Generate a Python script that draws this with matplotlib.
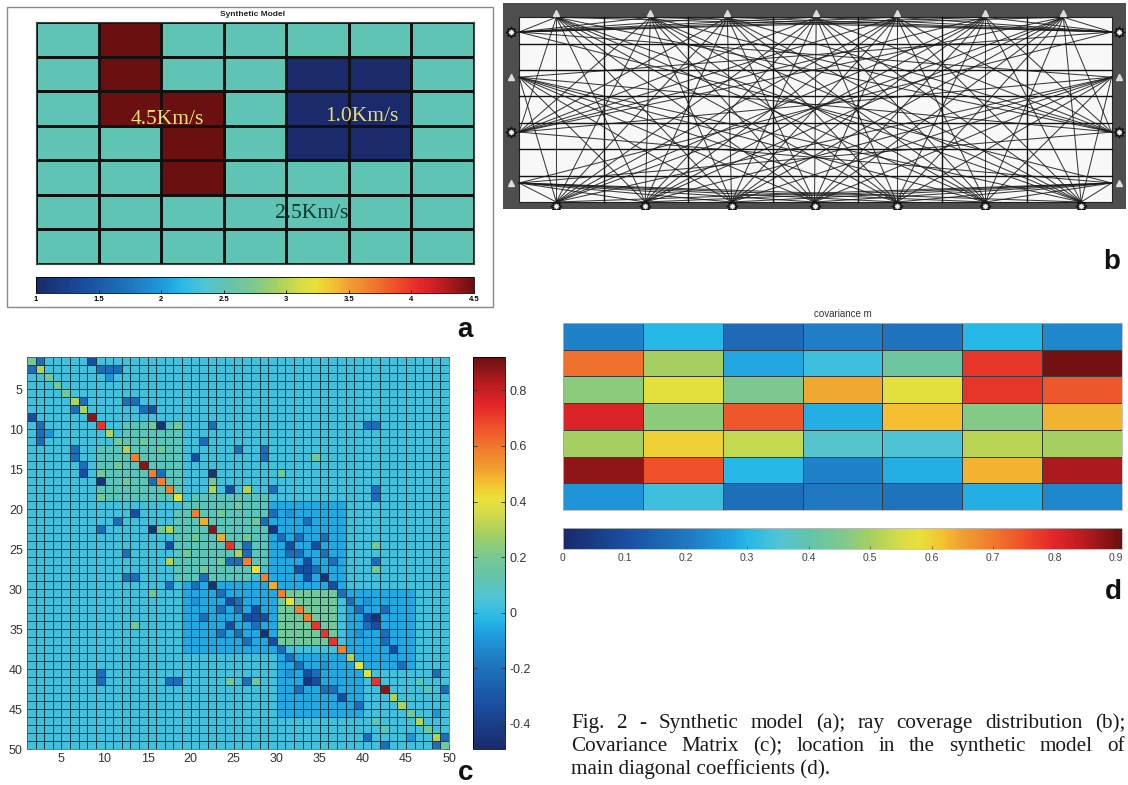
import numpy as np
import matplotlib
matplotlib.use("Agg")
import matplotlib.pyplot as plt
from matplotlib.colors import LinearSegmentedColormap
from matplotlib.patches import Rectangle

W, H = 1128, 785

# ---- panel a: synthetic velocity model (km/s), rows top to bottom
model_velocity = [
    [2.5, 4.5, 2.5, 2.5, 2.5, 2.5, 2.5],
    [2.5, 4.5, 2.5, 2.5, 1.0, 1.0, 2.5],
    [2.5, 4.5, 4.5, 2.5, 1.0, 1.0, 2.5],
    [2.5, 2.5, 4.5, 2.5, 1.0, 1.0, 2.5],
    [2.5, 2.5, 4.5, 2.5, 2.5, 2.5, 2.5],
    [2.5, 2.5, 2.5, 2.5, 2.5, 2.5, 2.5],
    [2.5, 2.5, 2.5, 2.5, 2.5, 2.5, 2.5],
]
velocity_ticks = [1, 1.5, 2, 2.5, 3, 3.5, 4, 4.5]
velocity_ticklabels = ["1", "1.5", "2", "2.5", "3", "3.5", "4", "4.5"]

# ---- panel b: source / receiver positions (model units, 7 x 7 cells)
top_receivers_x = [0.44, 1.55, 2.46, 3.51, 4.46, 5.51, 6.43]
bottom_sources_x = [0.44, 1.49, 2.51, 3.49, 4.46, 5.51, 6.64]
side_sources_y = [6.44, 2.65]
side_receivers_y = [4.73, 0.72]

# ---- panel c: covariance matrix (49 x 49 cells as drawn by pcolor)
cov_levels = {"N": -0.45, "B": -0.34, "b": -0.22, "l": -0.1, "k": -0.05,
              "c": 0.03, "m": 0.1, "g": 0.18, "y": 0.3, "Y": 0.4, "O": 0.5,
              "o": 0.58, "r": 0.72, "R": 0.88}
cov_background = "c"
cov_diag = ("gyggg" "yyRry" "gyoRo" "ooYmo" "OROry"
            "oYoOo" "Yoorr" "royYY" "rRyyg" "ygyg")
cov_blocks = [  # (row0, row1, col0, col1, level), mirrored
    (28, 36, 18, 29, "k"),
    (37, 44, 29, 38, "k"),
    (19, 27, 17, 25, "m"),
    (11, 17, 8, 16, "m"),
    (29, 35, 29, 35, "g"),
]
cov_cells = [  # (row, col, level), mirrored
    (7, 0, "B"), (1, 0, "b"), (1, 8, "b"), (1, 9, "b"), (5, 6, "b"),
    (5, 11, "b"), (5, 12, "b"), (6, 13, "b"), (8, 14, "g"), (8, 15, "N"),
    (8, 17, "g"), (8, 21, "b"), (8, 39, "b"), (8, 40, "b"), (12, 19, "B"),
    (15, 14, "b"), (16, 21, "y"), (16, 23, "B"), (16, 25, "y"),
    (16, 28, "b"), (16, 40, "b"), (21, 14, "N"), (21, 8, "b"),
    (21, 15, "g"), (21, 16, "y"), (21, 28, "B"), (20, 27, "b"),
    (23, 16, "B"), (23, 25, "b"), (25, 24, "b"), (27, 34, "B"),
    (26, 32, "B"), (28, 21, "N"), (28, 19, "b"), (27, 20, "b"),
    (28, 16, "b"), (27, 11, "b"), (27, 12, "b"), (29, 14, "g"),
    (33, 12, "g"), (32, 25, "B"), (32, 26, "B"), (31, 22, "b"),
    (33, 23, "B"), (34, 27, "N"), (33, 40, "N"), (33, 39, "b"),
    (40, 32, "N"), (41, 34, "b"), (40, 8, "b"), (40, 16, "b"),
    (40, 17, "b"), (40, 23, "g"), (40, 25, "b"), (40, 26, "g"),
    (12, 5, "b"), (13, 6, "b"), (14, 6, "B"), (10, 1, "b"), (9, 2, "l"),
    (20, 10, "b"), (24, 11, "b"), (48, 41, "B"), (48, 47, "b"),
    (41, 48, "b"), (39, 47, "b"), (47, 39, "b"),
    (29, 22, "b"), (30, 23, "B"), (30, 24, "b"), (31, 24, "b"), (31, 26, "B"),
    (32, 27, "B"), (33, 26, "b"), (34, 22, "b"), (34, 24, "b"), (35, 25, "b"),
    (35, 28, "B"), (30, 19, "l"), (32, 20, "b"), (36, 29, "b"),
    (37, 30, "b"), (38, 31, "b"), (39, 32, "B"), (40, 33, "B"), (41, 35, "b"),
    (42, 36, "B"), (38, 34, "l"), (43, 38, "b"), (39, 30, "l"), (41, 31, "b"),
    (24, 18, "g"), (22, 19, "g"), (26, 20, "g"), (25, 22, "g"), (13, 10, "g"),
    (15, 11, "g"), (44, 47, "l"), (45, 40, "m"), (46, 41, "m"),
]
cov_ticks = [5, 10, 15, 20, 25, 30, 35, 40, 45, 50]
cov_cbar_ticks = [-0.4, -0.2, 0, 0.2, 0.4, 0.6, 0.8]

# ---- panel d: main diagonal coefficients located on the model grid
diag_map = [
    [0.22, 0.30, 0.17, 0.21, 0.19, 0.30, 0.23],
    [0.71, 0.50, 0.28, 0.33, 0.42, 0.78, 0.90],
    [0.47, 0.57, 0.45, 0.64, 0.57, 0.78, 0.74],
    [0.81, 0.47, 0.74, 0.29, 0.62, 0.46, 0.63],
    [0.50, 0.60, 0.53, 0.36, 0.35, 0.52, 0.50],
    [0.88, 0.75, 0.30, 0.22, 0.29, 0.63, 0.86],
    [0.25, 0.33, 0.18, 0.20, 0.19, 0.29, 0.23],
]
diag_ticks = [0, 0.1, 0.2, 0.3, 0.4, 0.5, 0.6, 0.7, 0.8, 0.9]

caption = [
    "Fig. 2 - Synthetic model (a); ray coverage distribution (b);",
    "Covariance Matrix (c); location in the synthetic model of",
    "main diagonal coefficients (d).",
]

# washed-out "printed" jet
jet_anchors = [
    (0.0, "#1a2a6a"), (0.11, "#1b4ea0"), (0.22, "#1f78c0"), (0.297, "#1fa0e0"),
    (0.33, "#26b8e6"), (0.385, "#50c4d6"), (0.44, "#64c4aa"), (0.495, "#7cc890"),
    (0.55, "#a6d060"), (0.604, "#d6dc48"), (0.637, "#e8e23a"), (0.681, "#f4c030"),
    (0.714, "#f0a030"), (0.769, "#f07a2e"), (0.824, "#ee502a"), (0.879, "#e4262a"),
    (0.934, "#b81c20"), (1.0, "#6a1010"),
]
cmap = LinearSegmentedColormap.from_list("printjet", jet_anchors)

plt.rcParams["font.family"] = ["Liberation Sans", "DejaVu Sans"]
fig = plt.figure(figsize=(W / 100, H / 100), dpi=100)


def px_box(x0, y0, x1, y1):
    return [x0 / W, 1 - y1 / H, (x1 - x0) / W, (y1 - y0) / H]


def fig_text(x, y, s, **kw):
    return fig.text(x / W, 1 - y / H, s, **kw)


# ================= panel a
fig.patches.append(Rectangle((7 / W, 1 - 307 / H), 486 / W, 300 / H,
                             transform=fig.transFigure, fill=False,
                             edgecolor="#8a8a8a", lw=1.0))
ax_a = fig.add_axes(px_box(36, 22, 474, 264))
mesh_a = ax_a.pcolormesh(np.array(model_velocity), cmap=cmap, vmin=1, vmax=4.5,
                         edgecolors="#111111", linewidth=0.8)
ax_a.set_xlim(0, 7)
ax_a.set_ylim(7, 0)
ax_a.set_xticks([])
ax_a.set_yticks([])
for s in ax_a.spines.values():
    s.set_color("#444444")
serif = dict(fontsize=15.5, family="Liberation Serif", ha="center", va="center")
ax_a.text(2.1, 2.83, "4.5Km/s", color="#ece27a", **serif)
ax_a.text(5.2, 2.72, "1.0Km/s", color="#e4dc7c", **serif)
ax_a.text(4.41, 5.55, "2.5Km/s", color="#17352d", **serif)
fig_text(253, 15, "Synthetic Model", fontsize=6, fontweight="bold", ha="center",
         va="center", color="#222222")
cax_a = fig.add_axes(px_box(36, 277, 474, 293))
cb_a = fig.colorbar(mesh_a, cax=cax_a, orientation="horizontal", ticks=velocity_ticks)
cb_a.ax.set_xticklabels(velocity_ticklabels, fontsize=5.5, fontweight="bold")
cb_a.ax.tick_params(length=2, width=0.6, direction="in", pad=2)
cb_a.outline.set_linewidth(0.6)

# ================= panel b
ax_b = fig.add_axes(px_box(503, 3, 1126, 209))
ax_b.set_xlim(-0.19, 7.17)
ax_b.set_ylim(-0.265, 7.54)
ax_b.set_facecolor("#4e4e4e")
for s in ax_b.spines.values():
    s.set_visible(False)
ax_b.set_xticks([])
ax_b.set_yticks([])
ax_b.add_patch(Rectangle((0, 0), 7, 7, facecolor="#f8f8f8", edgecolor="#222222", lw=0.8))
for k in range(1, 7):
    ax_b.plot([k, k], [0, 7], color="#111111", lw=1.0)
    ax_b.plot([0, 7], [k, k], color="#111111", lw=1.0)

sources = ([(0.0, y) for y in side_sources_y] + [(7.0, y) for y in side_sources_y]
           + [(x, 0.0) for x in bottom_sources_x])
receivers = ([(x, 7.0) for x in top_receivers_x] + [(0.0, y) for y in side_receivers_y]
             + [(7.0, y) for y in side_receivers_y])
for sx, sy in sources:
    for rx, ry in receivers:
        if sx == rx and sx in (0.0, 7.0):
            continue
        ax_b.plot([sx, rx], [sy, ry], color="#1a1a1a", lw=0.75, alpha=0.85)

tri_kw = dict(marker="^", ms=5, mfc="#dddddd", mec="#dddddd", ls="none")
ax_b.plot(top_receivers_x, [7.17] * len(top_receivers_x), **tri_kw)
ax_b.plot([-0.095] * 2, side_receivers_y, **tri_kw)
ax_b.plot([7.09] * 2, side_receivers_y, **tri_kw)
gear_kw = dict(marker=(8, 1, 0), ms=8, mfc="#f0f0f0", mec="#111111", mew=1.0, ls="none")
ax_b.plot(bottom_sources_x, [-0.17] * len(bottom_sources_x), **gear_kw)
ax_b.plot([-0.095] * 2, side_sources_y, **gear_kw)
ax_b.plot([7.09] * 2, side_sources_y, **gear_kw)

# ================= panel c
n = len(cov_diag)
cov = np.full((n, n), cov_levels[cov_background])
for r0, r1, c0, c1, code in cov_blocks:
    cov[r0:r1 + 1, c0:c1 + 1] = cov_levels[code]
    cov[c0:c1 + 1, r0:r1 + 1] = cov_levels[code]
for r, c, code in cov_cells:
    cov[r, c] = cov_levels[code]
    cov[c, r] = cov_levels[code]
np.fill_diagonal(cov, [cov_levels[ch] for ch in cov_diag])

ax_c = fig.add_axes(px_box(27, 357, 449, 749))
edges = np.arange(1, n + 2)
mesh_c = ax_c.pcolormesh(edges, edges, cov, cmap=cmap, vmin=-0.49, vmax=0.92,
                         edgecolors="#1d3a40", linewidth=0.5)
ax_c.set_xlim(1, n + 1)
ax_c.set_ylim(n + 1, 1)
ax_c.set_xticks(cov_ticks)
ax_c.set_yticks(cov_ticks)
ax_c.tick_params(labelsize=9, length=3, width=0.6, direction="in", colors="#333333",
                 pad=3, top=True, right=True)
for s in ax_c.spines.values():
    s.set_color("#666666")
    s.set_linewidth(0.6)

cax_c = fig.add_axes(px_box(473, 357, 505, 749))
cb_c = fig.colorbar(mesh_c, cax=cax_c, ticks=cov_cbar_ticks)
cb_c.ax.set_yticklabels(["-0.4", "-0.2", "0", "0.2", "0.4", "0.6", "0.8"])
cb_c.ax.tick_params(labelsize=9, length=3, width=0.6, direction="in", colors="#333333",
                    left=True)
cb_c.outline.set_linewidth(0.6)

# ================= panel d
ax_d = fig.add_axes(px_box(563, 323, 1122, 510))
mesh_d = ax_d.pcolormesh(np.array(diag_map), cmap=cmap, vmin=0, vmax=0.91,
                         edgecolors="#3a3a3a", linewidth=0.5)
ax_d.set_xlim(0, 7)
ax_d.set_ylim(7, 0)
ax_d.set_xticks([])
ax_d.set_yticks([])
for s in ax_d.spines.values():
    s.set_color("#bbbbbb")
    s.set_linewidth(0.6)
fig_text(843, 314, "covariance m", fontsize=7, ha="center", va="center", color="#333333")
cax_d = fig.add_axes(px_box(563, 528, 1122, 549))
cb_d = fig.colorbar(mesh_d, cax=cax_d, orientation="horizontal", ticks=diag_ticks)
cb_d.ax.set_xticklabels([f"{t:g}" for t in diag_ticks])
cb_d.ax.tick_params(labelsize=7.5, length=2, width=0.5, direction="in", colors="#444444",
                    pad=3)
cb_d.outline.set_edgecolor("#bbbbbb")
cb_d.outline.set_linewidth(0.6)

# ================= panel letters and caption
for letter, (x, y) in zip("abcd", [(465, 330), (1112, 262), (466, 773), (1113, 592)]):
    fig_text(x, y, letter, fontsize=20, fontweight="bold", ha="center", va="center",
             color="#111111")

cap_kw = dict(fontsize=15.2, family="Liberation Serif", ha="left", va="baseline",
              color="#1a1a1a")
renderer = fig.canvas.get_renderer()
for i, line in enumerate(caption):
    y = 728 + 23 * i
    if i == len(caption) - 1:
        fig_text(571, y, line, **cap_kw)
        continue
    # justified lines filling the column up to the right edge
    words = line.split(" ")
    widths = []
    for w in words:
        t = fig_text(0, 0, w, **cap_kw)
        widths.append(t.get_window_extent(renderer).width)
        t.remove()
    gap = (554 - sum(widths)) / (len(words) - 1)
    x = 571
    for w, wd in zip(words, widths):
        fig_text(x, y, w, **cap_kw)
        x += wd + gap

fig.savefig("out.png", dpi=100)
